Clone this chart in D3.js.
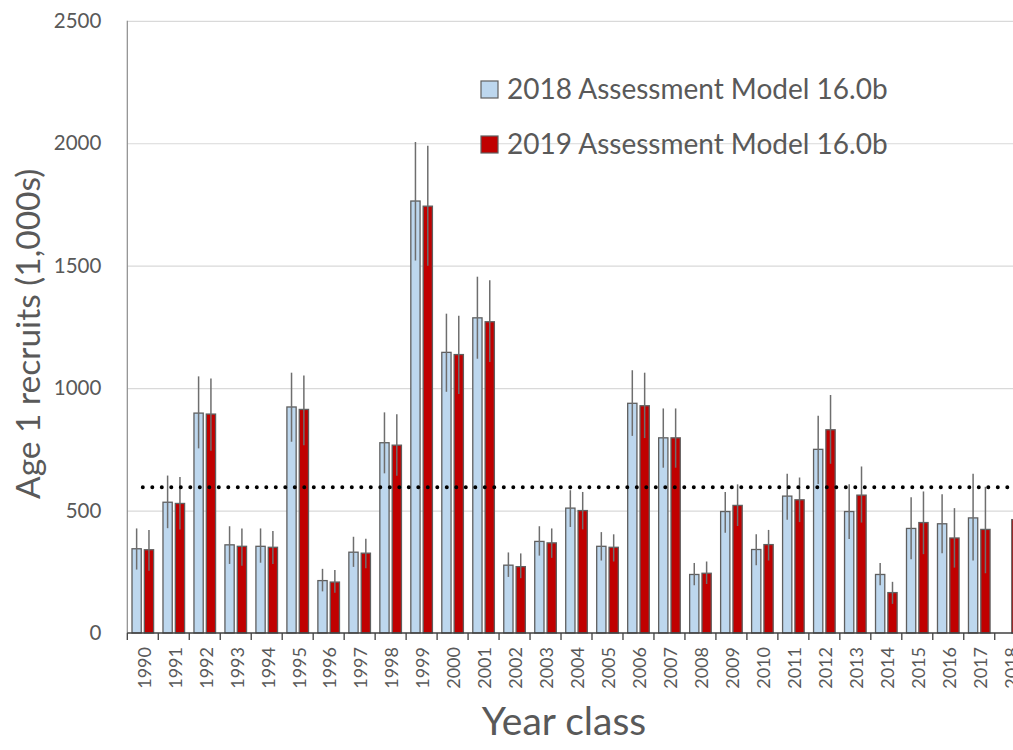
<!DOCTYPE html>
<html>
<head>
<meta charset="utf-8">
<script src="https://cdn.jsdelivr.net/npm/d3@7"></script>
<style>
  body { margin: 0; background: #fff; }
  svg { display: block; font-family: Lato, "Open Sans", sans-serif; }
</style>
</head>
<body>
<script>
// year classes and estimates (1,000s)
const years = [1990,1991,1992,1993,1994,1995,1996,1997,1998,1999,2000,2001,2002,2003,2004,
               2005,2006,2007,2008,2009,2010,2011,2012,2013,2014,2015,2016,2017,2018];

const est2018 = [344,534,898,360,354,923,214,330,777,1764,1146,1287,277,374,510,
                 354,938,797,239,496,341,559,750,496,239,427,446,470,null];
const lo2018  = [259,428,754,282,287,781,170,270,652,1521,985,1120,229,316,433,
                 296,805,675,195,409,277,462,608,384,195,301,326,296,null];
const hi2018  = [427,643,1048,436,427,1063,262,393,901,2005,1304,1455,329,436,583,
                 412,1073,917,286,576,403,650,887,607,286,554,567,650,null];

const est2019 = [340,529,894,354,350,913,208,326,767,1743,1137,1271,271,368,500,
                 350,928,797,244,521,361,544,830,563,165,451,388,423,463];
const lo2019  = [254,423,744,275,282,767,164,264,642,1500,976,1107,224,307,423,
                 292,796,675,200,437,296,453,691,451,119,322,267,244,null];
const hi2019  = [421,637,1039,427,417,1052,257,385,893,1990,1296,1441,325,427,576,
                 403,1063,917,292,607,421,635,972,680,209,578,510,597,null];

const refLevel = 595;
const yTicks = [0,500,1000,1500,2000,2500];
const seriesNames = ["2018 Assessment Model 16.0b", "2019 Assessment Model 16.0b"];
const seriesKeys = ["a2018", "a2019"];

const W = 1013, H = 750;
const plotLeft = 127.3, plotTop = 20.8, plotBottom = 633;
const step = 30.98;

const svg = d3.select("body").append("svg")
  .attr("width", W).attr("height", H);

const x = d3.scaleBand()
  .domain(years)
  .range([plotLeft, plotLeft + step * years.length])
  .padding(0);

const xInner = d3.scaleBand()
  .domain(seriesKeys)
  .range([4.7, 26.3])
  .paddingInner(0.25);

const y = d3.scaleLinear().domain([0, 2500]).range([plotBottom, plotTop]);

const color = d3.scaleOrdinal().domain(seriesKeys).range(["#bdd7ee", "#c00000"]);

const textCol = "#595959";

// gridlines
svg.append("g")
  .attr("transform", `translate(${plotLeft},0)`)
  .call(d3.axisLeft(y).tickValues(yTicks.slice(1)).tickSize(-(W - plotLeft + 20)).tickFormat(""))
  .call(g => g.select(".domain").remove())
  .call(g => g.selectAll("line").attr("stroke", "#d9d9d9").attr("stroke-width", 1.2));

// y axis line + labels
svg.append("line")
  .attr("x1", plotLeft).attr("x2", plotLeft)
  .attr("y1", y(2500)).attr("y2", y(0))
  .attr("stroke", "#8c8c8c").attr("stroke-width", 1.2);

svg.append("g")
  .attr("transform", `translate(${plotLeft - 26},0)`)
  .call(d3.axisLeft(y).tickValues(yTicks).tickSize(0).tickPadding(0).tickFormat(d3.format("d")))
  .call(g => g.select(".domain").remove())
  .call(g => g.selectAll("text")
    .attr("fill", textCol)
    .attr("font-size", "20.5px")
    .attr("font-family", "Lato, sans-serif"));

// bars
const rows = years.map((yr, i) => ({
  year: yr,
  vals: [
    { key: "a2018", v: est2018[i], lo: lo2018[i], hi: hi2018[i] },
    { key: "a2019", v: est2019[i], lo: lo2019[i], hi: hi2019[i] }
  ]
}));

const groups = svg.append("g").selectAll("g")
  .data(rows).enter().append("g")
  .attr("transform", d => `translate(${x(d.year)},0)`);

groups.selectAll("rect")
  .data(d => d.vals.filter(v => v.v != null))
  .enter().append("rect")
  .attr("x", d => xInner(d.key))
  .attr("width", xInner.bandwidth())
  .attr("y", d => y(d.v))
  .attr("height", d => y(0) - y(d.v))
  .attr("fill", d => color(d.key))
  .attr("stroke", "#5f5f5f")
  .attr("stroke-width", 1.3);

// error bars
groups.selectAll("line.err")
  .data(d => d.vals.filter(v => v.lo != null))
  .enter().append("line")
  .attr("class", "err")
  .attr("x1", d => xInner(d.key) + xInner.bandwidth() / 2)
  .attr("x2", d => xInner(d.key) + xInner.bandwidth() / 2)
  .attr("y1", d => y(d.lo))
  .attr("y2", d => y(d.hi))
  .attr("stroke", "#6e6e6e")
  .attr("stroke-width", 1.5);

// x axis
svg.append("line")
  .attr("x1", plotLeft).attr("x2", W + 20)
  .attr("y1", y(0)).attr("y2", y(0))
  .attr("stroke", "#404040").attr("stroke-width", 1.5);

svg.append("g").selectAll("line")
  .data(years).enter().append("line")
  .attr("x1", d => x(d)).attr("x2", d => x(d))
  .attr("y1", y(0)).attr("y2", y(0) + 7)
  .attr("stroke", "#404040").attr("stroke-width", 1.3);

svg.append("g").selectAll("text")
  .data(years).enter().append("text")
  .attr("transform", d => `translate(${x(d) + x.bandwidth() / 2 + 1.5},${y(0) + 14}) rotate(-90)`)
  .attr("text-anchor", "end")
  .attr("dy", "0.35em")
  .attr("fill", textCol)
  .attr("font-size", "18px")
  .text(d => d);

// reference dotted line
svg.append("line")
  .attr("x1", x(1990) + x.bandwidth() / 2)
  .attr("x2", x(2018) + x.bandwidth() / 2)
  .attr("y1", y(refLevel)).attr("y2", y(refLevel))
  .attr("stroke", "#000")
  .attr("stroke-width", 4)
  .attr("stroke-linecap", "round")
  .attr("stroke-dasharray", "0 9.5");

// axis titles
svg.append("text")
  .attr("transform", `translate(40,${(plotTop + plotBottom) / 2 + 7}) rotate(-90)`)
  .attr("text-anchor", "middle")
  .attr("fill", textCol)
  .attr("font-size", "33.5px")
  .text("Age 1 recruits (1,000s)");

svg.append("text")
  .attr("x", 564)
  .attr("y", 735)
  .attr("text-anchor", "middle")
  .attr("fill", textCol)
  .attr("font-size", "39px")
  .text("Year class");

// legend
const legend = svg.append("g").attr("transform", "translate(481,81)");
seriesKeys.forEach((k, i) => {
  const g = legend.append("g").attr("transform", `translate(0,${i * 55})`);
  g.append("rect")
    .attr("width", 17).attr("height", 17)
    .attr("fill", color(k))
    .attr("stroke", "#5f5f5f").attr("stroke-width", 1.2);
  g.append("text")
    .attr("x", 26).attr("y", 17.5)
    .attr("fill", textCol)
    .attr("font-size", "28px")
    .text(seriesNames[i]);
});
</script>
</body>
</html>
